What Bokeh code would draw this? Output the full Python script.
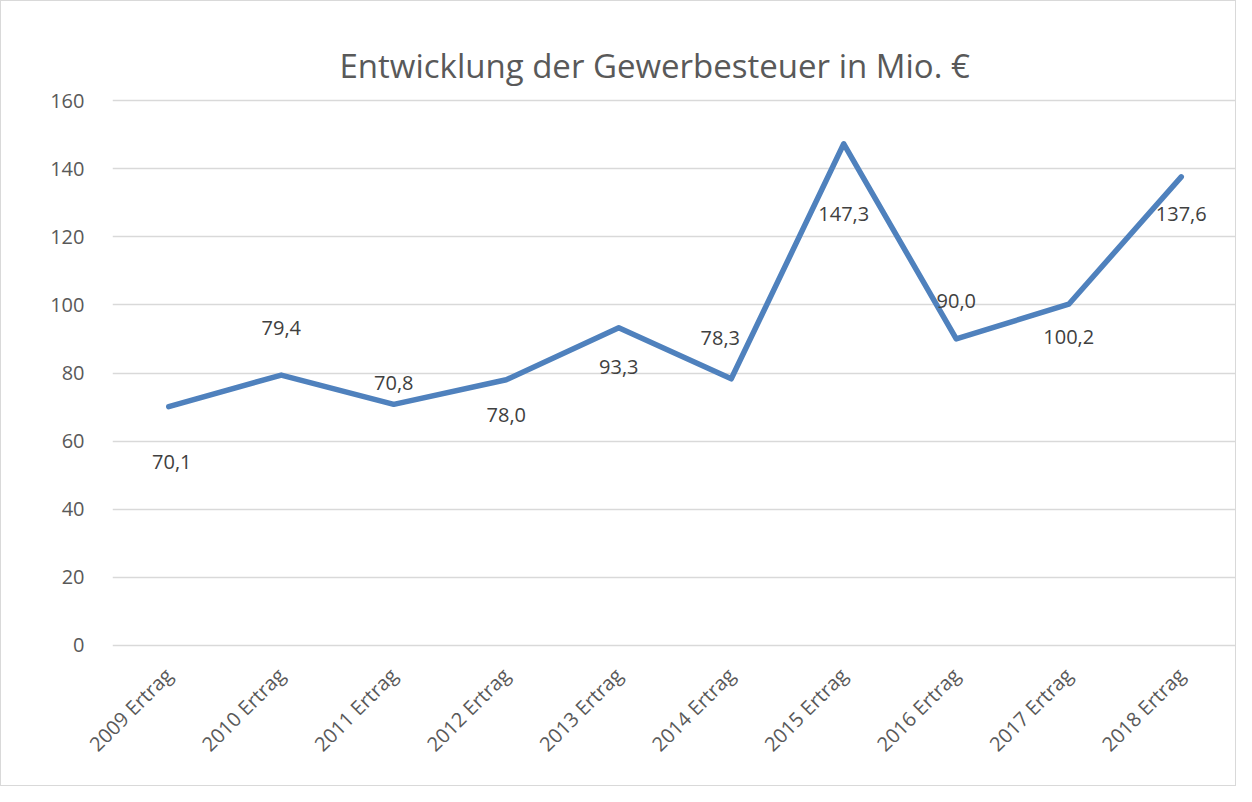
import math
from bokeh.plotting import figure
from bokeh.models import ColumnDataSource, Range1d, FixedTicker
from bokeh.core.properties import value
from bokeh.embed import file_html
from bokeh.resources import INLINE

categories = ["2009 Ertrag", "2010 Ertrag", "2011 Ertrag", "2012 Ertrag", "2013 Ertrag",
              "2014 Ertrag", "2015 Ertrag", "2016 Ertrag", "2017 Ertrag", "2018 Ertrag"]
values = [70.1, 79.4, 70.8, 78.0, 93.3, 78.3, 147.3, 90.0, 100.2, 137.6]
labels = ["70,1", "79,4", "70,8", "78,0", "93,3", "78,3", "147,3", "90,0", "100,2", "137,6"]
y_ticks = [0, 20, 40, 60, 80, 100, 120, 140, 160]

# label placement (pixel offsets, style only)
label_dx = [3, 0, 0, 0, 0, -11, 0, 0, 0, 0]
label_dy = [55, -47, -21, 35, 39, -41, 70, -38, 33, 37]

FONT = "Open Sans"
GRAY = "#595959"

src = ColumnDataSource(dict(x=categories, y=values, t=labels, dx=label_dx, dy=label_dy))

p = figure(width=1236, height=786, x_range=categories, y_range=Range1d(-0.6, 160.6),
           output_backend="svg", toolbar_location=None,
           min_border_left=111, min_border_right=0, min_border_top=97, min_border_bottom=140)
p.styles = {"border": "1px solid #d9d9d9"}

p.title.text = "Entwicklung der Gewerbesteuer in Mio. €"
p.title.align = "left"
p.title.offset = 227
p.title.text_font = FONT
p.title.text_font_size = "33px"
p.title.text_font_style = "normal"
p.title.text_color = GRAY
p.title.standoff = 22

p.outline_line_color = None
p.xgrid.grid_line_color = None
p.ygrid.grid_line_color = "#d9d9d9"
p.ygrid.grid_line_width = 1.5
p.ygrid.ticker = FixedTicker(ticks=y_ticks)

p.yaxis.ticker = FixedTicker(ticks=y_ticks)
p.yaxis.axis_line_color = None
p.yaxis.major_tick_line_color = None
p.yaxis.minor_tick_line_color = None
p.yaxis.major_label_text_font = FONT
p.yaxis.major_label_text_font_size = "20px"
p.yaxis.major_label_text_color = GRAY
p.yaxis.major_label_standoff = 22

p.xaxis.axis_line_color = None
p.xaxis.major_tick_line_color = None
p.xaxis.major_label_orientation = math.pi / 4
p.xaxis.major_label_text_font = FONT
p.xaxis.major_label_text_font_size = "20px"
p.xaxis.major_label_text_color = GRAY
p.xaxis.major_label_standoff = 18

p.line(x="x", y="y", source=src, line_color="#4F81BD", line_width=5.5, line_join="round", line_cap="round")
p.text(x="x", y="y", text="t", source=src, x_offset="dx", y_offset="dy",
       text_align="center", text_baseline="middle",
       text_font=value(FONT), text_font_size="20px", text_color="#404040")

open("out.html", "w").write(file_html(p, INLINE))
